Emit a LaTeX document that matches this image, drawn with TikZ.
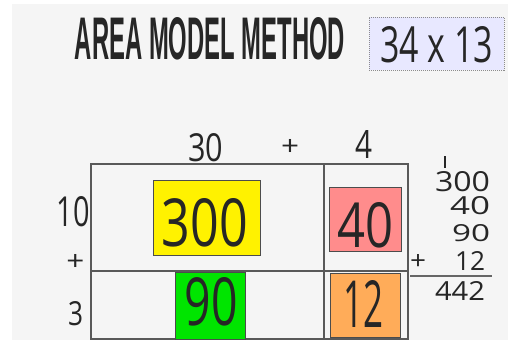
\documentclass[tikz,border=0pt]{standalone}
\usepackage{fontspec}
\setmainfont{Open Sans}
\newfontfamily\titlefont{Liberation Sans}
\usepackage{graphicx}
\usetikzlibrary{positioning}

% fit a piece of text into a w x h box (sizes in pt)
\newcommand{\fitto}[3]{\resizebox{#1pt}{#2pt}{#3}}

\begin{document}
\begin{tikzpicture}[
  x=1pt,y=-1pt,
  txt/.style={inner sep=0pt, text=black!85},
  gridline/.style={draw=black!65, line width=1.4pt},
  part/.style={draw=black!70, line width=0.8pt, inner sep=0pt, text=black!90},
  sumline/.style={draw=black!60, line width=1.3pt},
]

% ---------------- canvas ----------------
\useasboundingbox (0,0) rectangle (508,343);
\fill[white] (0,0) rectangle (508,343);
\fill[black!4] (12,4) rectangle (508,340);

% ---------------- heading ----------------
\node[txt] (title) at (210,39) {\fitto{270}{42}{\titlefont\bfseries AREA MODEL METHOD}};
\node[draw=black!45, densely dotted, line width=1pt, fill=blue!9,
      minimum width=135, minimum height=53, inner sep=0pt] (task) at (436.5,43.5) {};
\node[txt] at (task.center) [yshift=-1.5pt] {\fitto{113}{36}{34 x 13}};

% ---------------- area grid ----------------
\draw[gridline] (91,164) rectangle (408,339);
\draw[gridline] (324,164) -- (324,339);
\draw[gridline] (91,271) -- (408,271);

% factors along the top and the side
\node[txt] (tens) at (205.5,147.5) {\fitto{35}{28}{30}};
\node[txt] (plusa) at (290,147) {\fitto{18}{16}{+}};
\node[txt] (ones) at (363.5,144) {\fitto{17}{28}{4}};
\node[txt] (rten) at (73.5,212) {\fitto{33}{30}{10}};
\node[txt] (plusb) at (75.5,262) {\fitto{18}{16}{+}};
\node[txt] (rone) at (75.5,313.5) {\fitto{15}{24}{3}};

% partial products
\node[part, fill=yellow, minimum width=107, minimum height=75] (p300) at (206.5,217.5) {};
\node[txt] at (205,223) {\fitto{86}{48}{300}};
\node[part, fill=red!45!white, minimum width=72, minimum height=64] (p40) at (365,219) {};
\node[txt] at (365,225.5) {\fitto{56}{45}{40}};
\node[part, fill=green!90!black, minimum width=70, minimum height=67] (p90) at (210,305.5) {};
\node[txt] at (211.5,302) {\fitto{53}{48}{90}};
\node[part, fill=orange!65!white, minimum width=70, minimum height=64] (p12) at (365,305) {};
\node[txt] at (363,303.5) {\fitto{40}{47}{12}};

% ---------------- column addition ----------------
\node[txt] (carry) at (445,161.5) {\fitto{1.3}{12}{\rule{1pt}{10pt}}};
\node[txt] (s300) at (462.5,182) {\fitto{55}{20}{300}};
\node[txt] (s40) at (470,206) {\fitto{40}{18}{40}};
\node[txt] (s90) at (471,233.5) {\fitto{38}{17}{90}};
\node[txt] (s12) at (470,260.5) {\fitto{30}{19}{12}};
\node[txt] (splus) at (418,262) {\fitto{16}{15}{+}};
\coordinate (lineL) at (410,276);
\coordinate (lineR) at (492,276);
\draw[sumline] (lineL) -- (lineR);
\node[txt] (total) at (460,291) {\fitto{50}{19}{442}};

\end{tikzpicture}
\end{document}
